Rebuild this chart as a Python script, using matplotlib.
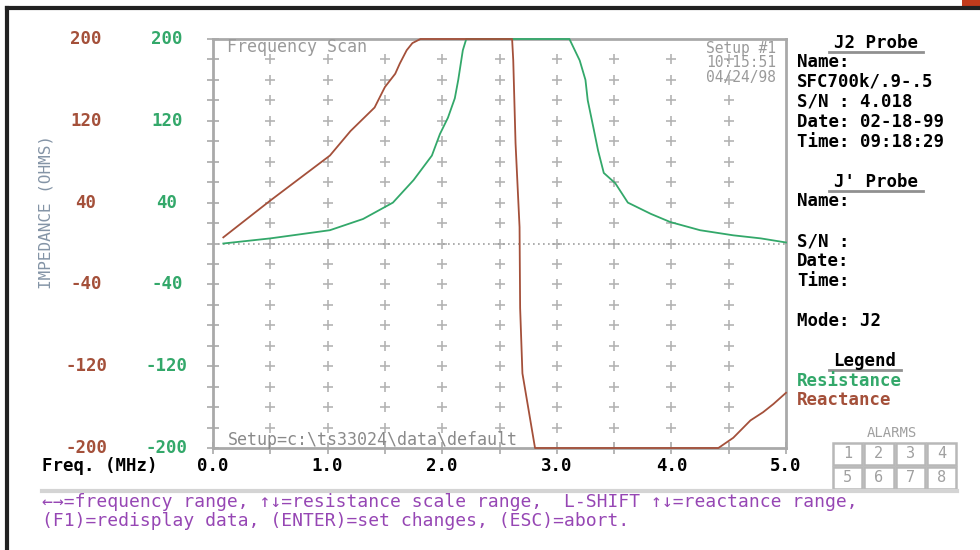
import matplotlib
matplotlib.use("Agg")
import matplotlib.pyplot as plt
import matplotlib.transforms as mtransforms
from matplotlib.patches import Rectangle
import numpy as np

# frequency scan data (MHz, ohms), values clipped at the +/-200 scale
res_freq = [0.09, 0.5, 1.02, 1.31, 1.57, 1.75, 1.91, 1.98, 2.05, 2.11, 2.14, 2.18, 2.21,
            3.11, 3.2, 3.25, 3.27, 3.32, 3.36, 3.41, 3.51, 3.62, 3.82, 3.99, 4.25, 4.54, 4.78, 5.0]
res_vals = [0, 5, 13, 24, 40, 62, 86, 107, 123, 142, 160, 189, 200,
            200, 179, 160, 140, 113, 91, 69, 59, 40, 29, 21, 13, 8, 5, 1]

reac_freq = [0.09, 0.5, 1.02, 1.2, 1.41, 1.5, 1.59, 1.63, 1.69, 1.74, 1.81, 2.61,
             2.62, 2.64, 2.675, 2.68, 2.70, 2.81, 4.41, 4.54, 4.69, 4.8, 4.89, 5.0]
reac_vals = [6, 42, 86, 110, 133, 153, 166, 176, 189, 196, 200, 200,
             179, 98, 16, -63, -127, -200, -200, -190, -173, -165, -157, -146]

y_labels = [200, 120, 40, -40, -120, -200]
x_labels = ["0.0", "1.0", "2.0", "3.0", "4.0", "5.0"]

probe_lines = ["Name:", "SFC700k/.9-.5", "S/N : 4.018", "Date: 02-18-99", "Time: 09:18:29"]
probe2_lines = ["Name:", "", "S/N :", "Date:", "Time:"]
setup_lines = ["Setup #1", "10:15:51", "04/24/98"]
alarms = ["1", "2", "3", "4", "5", "6", "7", "8"]

RED = "#a4503a"
GREEN = "#33a86a"
GRAY = "#a9a9a9"
PURPLE = "#9646b4"
MONO = "DejaVu Sans Mono"

W, H = 980, 550
fig = plt.figure(figsize=(9.8, 5.5), dpi=100)
fig.patch.set_facecolor("white")


def px(x, y):
	# pixel coords (from top-left) -> figure fraction
	return x / W, 1 - y / H


def ftext(x, y, s, **kw):
	kw.setdefault("family", MONO)
	kw.setdefault("fontsize", 12.5)
	kw.setdefault("va", "center")
	fig.text(*px(x, y), s, **kw)


# main plot area
x0, y0 = px(213, 448)
x1, y1 = px(786, 39)
ax = fig.add_axes([x0, y0, x1 - x0, y1 - y0])
ax.set_xlim(0, 5)
ax.set_ylim(-200, 200)
for sp in ax.spines.values():
	sp.set_color(GRAY)
	sp.set_linewidth(2)

ax.set_xticks(np.arange(0, 5.01, 0.5))
ax.set_yticks(np.arange(-200, 201, 20))
ax.tick_params(direction="inout", length=8, width=1.2, color=GRAY,
               labelbottom=False, labelleft=False)

# grid crosses
gx, gy = np.meshgrid(np.arange(0.5, 4.6, 0.5), np.arange(-180, 181, 20))
ax.plot(gx.ravel(), gy.ravel(), "+", color="#b4b4b4", ms=6.5, mew=1.2, zorder=1)
ax.axhline(0, color="#a0a0a0", lw=1.2, ls=(0, (1, 2)), zorder=1)

ax.plot(res_freq, res_vals, color=GREEN, lw=1.3, zorder=3, clip_on=False)
ax.plot(reac_freq, reac_vals, color=RED, lw=1.3, zorder=3, clip_on=False)

ftext(227, 47, "Frequency Scan", fontsize=12, color="#9a9a9a")
ftext(776, 41, "\n".join(setup_lines), fontsize=10.5, color="#9a9a9a", ha="right",
      va="top", linespacing=0.95)
ftext(228, 440, r"Setup=c:\ts33024\data\default", fontsize=12, color="#8a8a8a")

# y tick labels in two colours
tr = mtransforms.blended_transform_factory(fig.transFigure, ax.transData)
for v in y_labels:
	ax.text(86 / W, v, str(v), transform=tr, color=RED, family=MONO, fontsize=12.5,
	        weight="bold", ha="center", va="center", clip_on=False)
	ax.text(167 / W, v, str(v), transform=tr, color=GREEN, family=MONO, fontsize=12.5,
	        weight="bold", ha="center", va="center", clip_on=False)

# x tick labels
for i, lab in enumerate(x_labels):
	ax.text(i, -200, lab, transform=ax.transData + mtransforms.ScaledTranslation(0, -0.18, fig.dpi_scale_trans),
	        family=MONO, fontsize=12.5, weight="bold", ha="center", va="center", clip_on=False)
ftext(42, 466, "Freq. (MHz)", weight="bold")

ftext(46, 212, "IMPEDANCE (OHMS)", rotation=90, ha="center", color="#8494a6", fontsize=11.5)

# right side info panel
def heading(xc, y, s, w):
	ftext(xc, y, s, ha="center", weight="bold")
	fig.add_artist(plt.Line2D([(xc - w / 2) / W, (xc + w / 2) / W], [1 - (y + 9) / H] * 2,
	                          color="#909090", lw=2))

heading(876, 43, "J2 Probe", 94)
for i, s in enumerate(probe_lines):
	ftext(797, 62 + i * 20, s, weight="bold")
heading(876, 182, "J' Probe", 94)
for i, s in enumerate(probe2_lines):
	ftext(797, 201 + i * 20, s, weight="bold")
ftext(797, 321, "Mode: J2", weight="bold")
heading(865, 361, "Legend", 72)
ftext(797, 381, "Resistance", color=GREEN, weight="bold")
ftext(797, 400, "Reactance", color=RED, weight="bold")

# alarm boxes
ftext(892, 433, "ALARMS", ha="center", color="#a0a0a0", fontsize=10)
bw, bh = 31.25, 24
for k, lab in enumerate(alarms):
	c, r = k % 4, k // 4
	bx, by = 832 + c * bw, 442 + r * bh
	fig.add_artist(Rectangle(px(bx + 1, by + bh - 1), (bw - 2) / W, (bh - 2) / H,
	                         transform=fig.transFigure, fill=False, ec="#b8b8b8", lw=1.8))
	ftext(bx + bw / 2, by + bh / 2, lab, ha="center", color="#a0a0a0", fontsize=11)

# separator and help text
fig.add_artist(plt.Line2D([42 / W, 957 / W], [1 - 491 / H] * 2, color="#d4d4d4", lw=3))
ftext(42, 502, "\u2190\u2192=frequency range, \u2191\u2193=resistance scale range,  "
      "L-SHIFT \u2191\u2193=reactance range,", color=PURPLE, fontsize=13)
ftext(42, 521, "(F1)=redisplay data, (ENTER)=set changes, (ESC)=abort.", color=PURPLE, fontsize=13)

# outer frame of the screenshot
fig.add_artist(plt.Line2D([7 / W, 1], [1 - 8 / H] * 2, color="#222222", lw=3))
fig.add_artist(plt.Line2D([7 / W, 7 / W], [1 - 8 / H, 0], color="#222222", lw=3))
fig.add_artist(Rectangle(px(962, 9), 18 / W, 9 / H, transform=fig.transFigure,
                         color="#c23b1c", lw=0))

fig.savefig("out.png", dpi=100)
